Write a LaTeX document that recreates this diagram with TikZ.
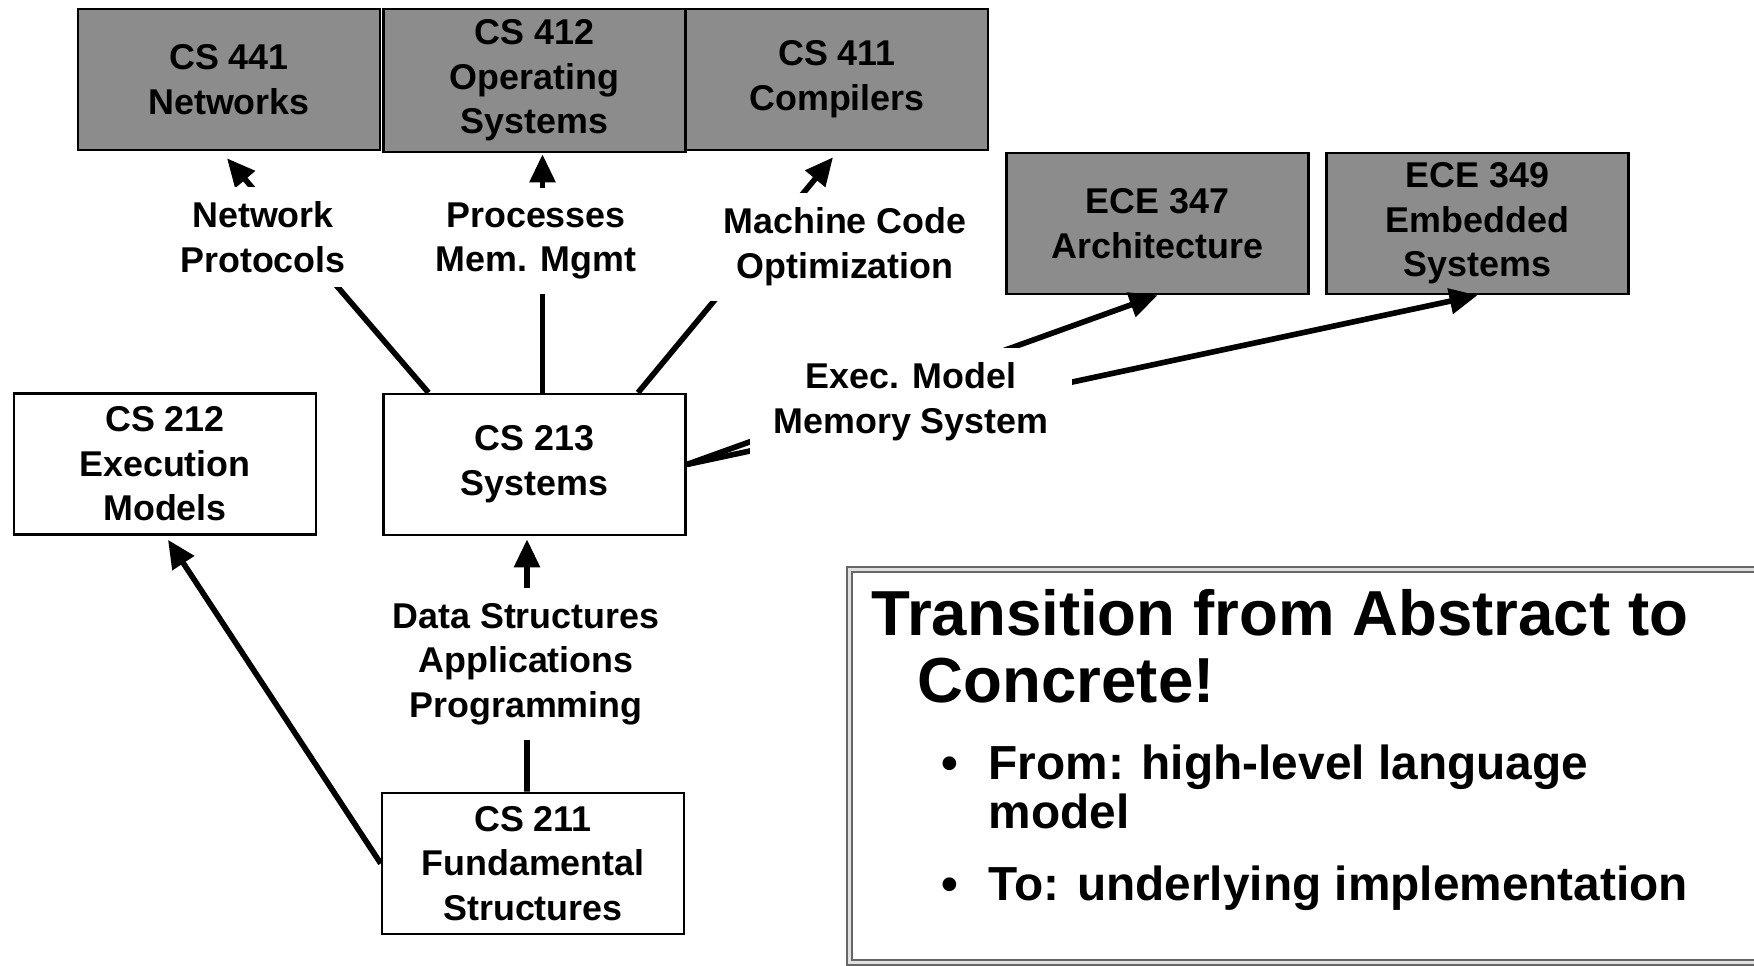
\documentclass[tikz,border=0pt]{standalone}
\usepackage{fontspec}
\setmainfont{Liberation Sans}
\usetikzlibrary{arrows.meta}
\definecolor{boxgray}{RGB}{140,140,140}

\begin{document}
\begin{tikzpicture}[x=0.1cm, y=0.1cm]
\tikzstyle{every node}+=[font=\bfseries\fontsize{10.2}{12.7}\selectfont, align=center]
\tikzstyle{course}=[draw=black, line width=0.75pt, minimum width=3.02cm, minimum height=1.41cm, inner sep=0pt]
\tikzstyle{later}=[course, fill=boxgray]
\tikzstyle{topic}=[fill=white, inner xsep=0.24cm, inner ysep=0.15cm]
\tikzstyle{link}=[-{Triangle[length=2.8mm,width=2.5mm]}, line width=1.6pt]
\tikzstyle{slide}=[anchor=base west, inner sep=0pt, align=left]
\useasboundingbox (0,0) rectangle (175.4,-96.6);
\clip (0,0) rectangle (175.4,-96.6);
% upper level courses
\node [later] (cs441) at (22.9,-7.95) {CS 441\\Networks};
\node [later, minimum height=1.43cm] (cs412) at (53.45,-8.05) {CS 412\\Operating\\Systems};
\node [later] (cs411) at (83.7,-7.95) {CS 411\\Compilers};
\node [later] (ece347) at (115.75,-22.35) {ECE 347\\Architecture};
\node [later] (ece349) at (147.75,-22.35) {ECE 349\\Embedded\\Systems};
% core courses
\node [course] (cs212) at (16.5,-46.4) {CS 212\\Execution\\Models};
\node [course] (cs213) at (53.45,-46.45) {CS 213\\Systems};
\node [course] (cs211) at (53.3,-86.35) {CS 211\\Fundamental\\Structures};
% arrows
\draw [link] ([xshift=-1.06cm]cs213.north) -- ([xshift=-0.02cm,yshift=-0.07cm]cs441.south);
\draw [link] ([xshift=0.08cm]cs213.north) -- ([xshift=0.08cm,yshift=-0.01cm]cs412.south);
\draw [link] ([xshift=1.035cm]cs213.north) -- ([xshift=-0.04cm,yshift=-0.06cm]cs411.south);
\draw [link] (cs213.east) -- (ece347.south);
\draw [link] (cs213.east) -- (ece349.south);
\draw [link] ([xshift=-0.06cm]cs211.north) -- ([xshift=-0.075cm,yshift=-0.03cm]cs213.south);
\draw [link] (cs211.west) -- ([xshift=0.03cm,yshift=-0.04cm]cs212.south);
% topic labels
\node [topic] (netlbl) at (26.3,-23.7) {Network\\Protocols};
\node [topic] (oslbl) at (53.6,-24.1) {Processes\\Mem. Mgmt};
\node [topic] (cclbl) at (84.5,-24.7) {Machine Code\\Optimization};
\node [topic] (memlbl) at (91.1,-40.2) {Exec. Model\\Memory System};
\node [topic] (dslbl) at (52.6,-66.4) {Data Structures\\Applications\\Programming};
% text box
\draw [draw=black!60, double=black!12, double distance=0.03cm, line width=0.02cm] (84.9,-57.0) rectangle (180,-96.3);
\node [slide, font=\bfseries\fontsize{18.1}{19}\selectfont] (title) at (87.1,-63.6) {Transition from Abstract to};
\node [slide, font=\bfseries\fontsize{18.1}{19}\selectfont] (title2) at (91.7,-70.3) {Concrete!};
\tikzstyle{every node}+=[font=\bfseries\fontsize{13.6}{13.9}\selectfont]
\node [slide] (dot1) at (94.1,-78.0) {\textbullet};
\node [slide] (item1) at (98.8,-78.0) {From: high-level language};
\node [slide] (item1b) at (98.8,-82.9) {model};
\node [slide] (dot2) at (94.1,-90.1) {\textbullet};
\node [slide] (item2) at (98.8,-90.1) {To: underlying implementation};
\end{tikzpicture}
\end{document}
